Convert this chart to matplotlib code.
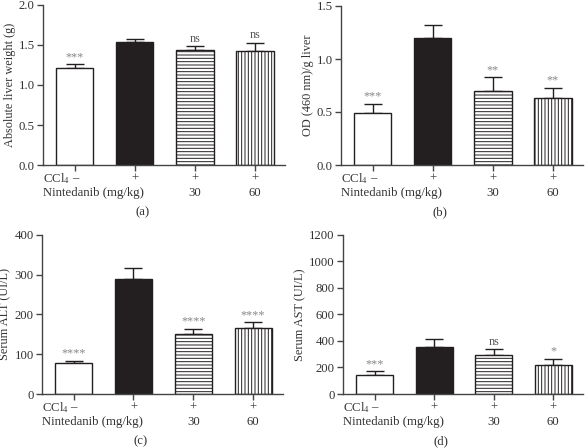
import numpy as np
import matplotlib.pyplot as plt
import matplotlib.transforms as mtransforms

plt.rcParams['font.family'] = ['Liberation Serif', 'DejaVu Serif']
plt.rcParams['mathtext.fontset'] = 'stix'
plt.rcParams['hatch.linewidth'] = 0.7

# data
groups = ['control', 'CCl4', 'CCl4+30', 'CCl4+60']
ccl4_row = ['\u2013', '+', '+', '+']
dose_row = ['', '', '30', '60']

liver_weight = [1.21, 1.54, 1.44, 1.42]
liver_weight_err = [0.05, 0.04, 0.05, 0.11]
liver_weight_sig = ['***', '', 'ns', 'ns']

od_liver = [0.487, 1.195, 0.700, 0.628]
od_liver_err = [0.092, 0.123, 0.127, 0.098]
od_liver_sig = ['***', '', '**', '**']

alt = [77, 290, 150, 165]
alt_err = [7, 27, 14, 15]
alt_sig = ['****', '', '****', '****']

ast = [145, 357, 297, 222]
ast_err = [25, 55, 40, 45]
ast_sig = ['***', '', 'ns', '*']

txt_col = '#333333'
dark = '#231f20'
fs = 9.2


def panel(rect, vals, errs, sig, ylabel, yticks, yfmt, letter):
    ax = fig.add_axes(rect)
    x = np.arange(len(vals))
    faces = ['white', dark, 'white', 'white']
    hatches = ['', '', '-----', '|||||']
    for i in range(len(vals)):
        ax.bar(x[i], vals[i], width=0.62, color=faces[i], edgecolor=dark,
               linewidth=1.0, hatch=hatches[i], zorder=2)
    ax.errorbar(x, vals, yerr=[np.zeros(len(vals)), errs], fmt='none',
                ecolor=dark, elinewidth=1.0, capsize=6.5, capthick=1.0, zorder=1)
    span = yticks[-1] - yticks[0]
    for i in range(len(vals)):
        if sig[i]:
            col = '#555555' if sig[i] == 'ns' else '#888888'
            ax.text(x[i], vals[i] + errs[i] + span * 0.008, sig[i], ha='center',
                    va='bottom', fontsize=fs - 0.5, color=col)
    ax.set_xlim(-0.53, 3.5)
    ax.set_ylim(yticks[0], yticks[-1])
    ax.set_yticks(yticks)
    ax.set_yticklabels([yfmt.format(t) for t in yticks])
    ax.set_xticks(x)
    ax.set_xticklabels([])
    ax.set_ylabel(ylabel, fontsize=fs - 0.4, color=txt_col, labelpad=2)
    for s in ['top', 'right']:
        ax.spines[s].set_visible(False)
    for s in ['left', 'bottom']:
        ax.spines[s].set_color('#444444')
        ax.spines[s].set_linewidth(1.0)
    ax.tick_params(axis='both', direction='out', length=4, width=1.0,
                   colors='#444444', labelsize=fs, labelcolor=txt_col, pad=2)
    # rows under the axis
    tr = mtransforms.blended_transform_factory(ax.transData, ax.transAxes)
    h = rect[3] * 4.48 * 100
    r1 = -13.5 / h
    r2 = -28 / h
    ax.text(0, r1, 'CCl$_4$', transform=ax.transAxes, ha='left', va='center',
            fontsize=fs, color=txt_col)
    ax.text(0, r2, 'Nintedanib (mg/kg)', transform=ax.transAxes, ha='left',
            va='center', fontsize=fs, color=txt_col)
    for i in range(len(vals)):
        ax.text(x[i], r1, ccl4_row[i], transform=tr, ha='center', va='center',
                fontsize=fs, color=txt_col)
        if dose_row[i]:
            ax.text(x[i], r2, dose_row[i], transform=tr, ha='center',
                    va='center', fontsize=fs, color=txt_col)
    ax.text(0.41, -47 / h, letter, transform=ax.transAxes, ha='center',
            va='center', fontsize=fs, color=txt_col)
    return ax


fig = plt.figure(figsize=(5.86, 4.48), dpi=100)
W, H = 586.0, 448.0


def rect(l, r, t, b):
    return [l / W, 1 - b / H, (r - l) / W, (b - t) / H]


panel(rect(43, 285, 5, 165), liver_weight, liver_weight_err, liver_weight_sig,
      'Absolute liver weight (g)', [0, 0.5, 1.0, 1.5, 2.0], '{:.1f}', '(a)')
panel(rect(341, 583, 6, 165), od_liver, od_liver_err, od_liver_sig,
      'OD (460 nm)/g liver', [0, 0.5, 1.0, 1.5], '{:.1f}', '(b)')
panel(rect(42, 283, 234.7, 394), alt, alt_err, alt_sig,
      'Serum ALT (UI/L)', [0, 100, 200, 300, 400], '{:d}', '(c)')
panel(rect(343, 583, 234.7, 394), ast, ast_err, ast_sig,
      'Serum AST (UI/L)', [0, 200, 400, 600, 800, 1000, 1200], '{:d}', '(d)')

fig.savefig('out.png', dpi=100)
